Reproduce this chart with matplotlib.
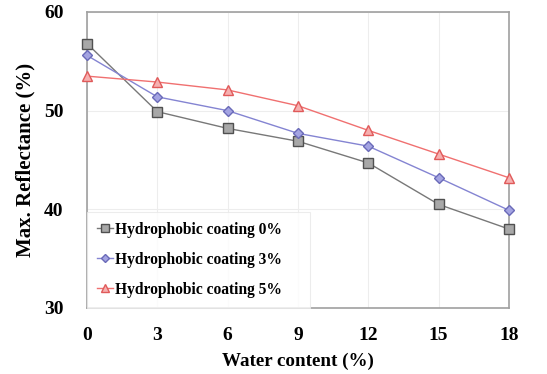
import matplotlib
matplotlib.use("Agg")
import matplotlib.pyplot as plt

water = [0, 3, 6, 9, 12, 15, 18]
coat0 = [56.8, 49.9, 48.2, 46.9, 44.7, 40.5, 38.0]
coat3 = [55.6, 51.4, 50.0, 47.7, 46.4, 43.2, 39.9]
coat5 = [53.5, 52.9, 52.1, 50.5, 48.0, 45.6, 43.2]
labels = ["Hydrophobic coating 0%", "Hydrophobic coating 3%", "Hydrophobic coating 5%"]

plt.rcParams['font.family'] = ['Liberation Serif', 'DejaVu Serif']
plt.rcParams['font.weight'] = 'bold'

fig = plt.figure(figsize=(5.47, 3.74), dpi=100)
L, R, T, B = 87, 509, 12, 308
ax = fig.add_axes([L / 547, 1 - B / 374, (R - L) / 547, (B - T) / 374])

ax.plot(water, coat0, color='#787878', lw=1.0, marker='s', ms=7.5,
        mfc='#a8a8a8', mec='#505050', mew=1.0, label=labels[0], clip_on=False, zorder=3)
ax.plot(water, coat3, color='#8484d2', lw=1.0, marker='D', ms=5.5,
        mfc='#a4a4e2', mec='#6a6ab8', mew=1.0, label=labels[1], clip_on=False, zorder=4)
ax.plot(water, coat5, color='#f07070', lw=1.0, marker='^', ms=7.5,
        mfc='#f6b0b0', mec='#e05a5a', mew=1.0, label=labels[2], clip_on=False, zorder=5)

ax.set_xlim(0, 18)
ax.set_ylim(30, 60)
ax.set_xticks(water)
ax.set_yticks([30, 40, 50, 60])
ax.grid(True, color='#ededed', lw=0.8)
ax.set_axisbelow(True)
ax.tick_params(axis='x', length=0, labelsize=14, pad=14)
ax.tick_params(axis='y', length=0, labelsize=14, pad=17)
for lab in ax.get_xticklabels() + ax.get_yticklabels():
    lab.set_fontweight('bold')
for s in ax.spines.values():
    s.set_color('#a0a0a0')
    s.set_linewidth(1.2)

ax.set_xlabel('Water content (%)', fontsize=13.7, fontweight='bold', labelpad=6)
ax.set_ylabel('Max. Reflectance (%)', fontsize=15, fontweight='bold', labelpad=6)

leg = ax.legend(loc='lower left', bbox_to_anchor=(0, 0, (310 - L) / (R - L), 1),
                mode='expand', fontsize=11.2, frameon=True, fancybox=False,
                handlelength=1.0, handletextpad=0.15, borderaxespad=0,
                labelspacing=0.9, borderpad=0.65, markerscale=0.8)
leg.get_frame().set_edgecolor('#e8e8e8')
leg.get_frame().set_linewidth(0.8)
for t in leg.get_texts():
    t.set_fontweight('bold')

fig.savefig('out.png', dpi=100)
